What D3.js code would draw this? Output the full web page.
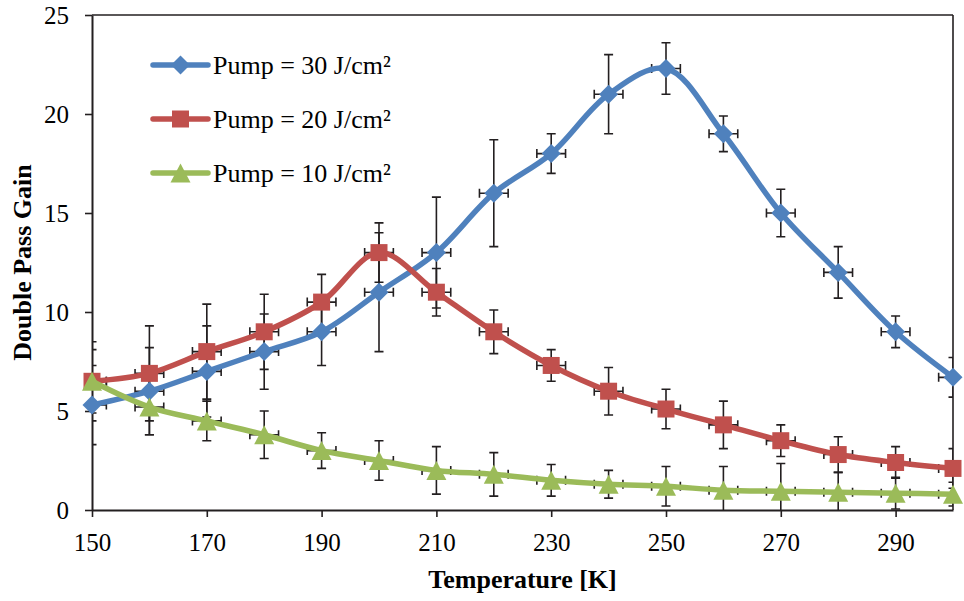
<!DOCTYPE html>
<html>
<head>
<meta charset="utf-8">
<script src="https://cdn.jsdelivr.net/npm/d3@7"></script>
<style>
  html, body { margin: 0; padding: 0; background: #fff; }
  svg { display: block; }
  .tick text { font-family: "Liberation Serif", "Times New Roman", serif; font-size: 25px; fill: #000; }
</style>
</head>
<body>
<svg id="chart" width="964" height="601"></svg>
<script>
// Temperature steps (K)
const temperatures = [150, 160, 170, 180, 190, 200, 210, 220, 230, 240, 250, 260, 270, 280, 290, 300];

// Double pass gain for each pump fluence
const gain30 = [5.3, 6.0, 7.0, 8.0, 9.0, 11.0, 13.0, 16.0, 18.0, 21.0, 22.3, 19.0, 15.0, 12.0, 9.0, 6.7];
const gain20 = [6.5, 6.9, 8.0, 9.0, 10.5, 13.0, 11.0, 9.0, 7.3, 6.0, 5.1, 4.3, 3.5, 2.8, 2.4, 2.1];
const gain10 = [6.5, 5.2, 4.5, 3.8, 3.0, 2.5, 2.0, 1.8, 1.5, 1.3, 1.2, 1.0, 0.95, 0.9, 0.85, 0.8];

// Gain uncertainty (±)
const err30 = [2.0, 2.2, 2.3, 1.9, 1.7, 3.0, 2.8, 2.7, 1.0, 2.0, 1.3, 0.9, 1.2, 1.3, 0.8, 1.0];
const err20 = [2.0, 2.4, 2.4, 1.9, 1.4, 1.5, 1.2, 1.1, 0.8, 1.2, 1.0, 1.2, 0.8, 0.9, 0.8, 1.0];
const err10 = [1.6, 1.4, 1.0, 1.2, 0.9, 1.0, 1.2, 1.1, 0.8, 0.7, 1.0, 1.2, 1.4, 1.0, 0.8, 0.6];

// Temperature uncertainty (± K)
const tempErr = 2.5;

const seriesNames = ["Pump = 30 J/cm²", "Pump = 20 J/cm²", "Pump = 10 J/cm²"];
const xTicks = [150, 170, 190, 210, 230, 250, 270, 290];
const yTicks = [0, 5, 10, 15, 20, 25];

const colors = ["#4F81BD", "#C0504D", "#9BBB59"];
const shapes = ["diamond", "square", "triangle"];

const series = [
  { name: seriesNames[0], values: gain30, errs: err30, color: colors[0], shape: shapes[0] },
  { name: seriesNames[1], values: gain20, errs: err20, color: colors[1], shape: shapes[1] },
  { name: seriesNames[2], values: gain10, errs: err10, color: colors[2], shape: shapes[2] }
];

const W = 964, H = 601;
const margin = { top: 15, right: 11, bottom: 91, left: 92 };
const iw = W - margin.left - margin.right;
const ih = H - margin.top - margin.bottom;

const svg = d3.select("#chart");
const g = svg.append("g").attr("transform", `translate(${margin.left},${margin.top})`);

const x = d3.scaleLinear().domain([150, 300]).range([0, iw]);
const y = d3.scaleLinear().domain([0, 25]).range([ih, 0]);

function markerPath(shape) {
  if (shape === "diamond") {
    const r = 9.5;
    return `M0,${-r}L${r},0L0,${r}L${-r},0Z`;
  }
  if (shape === "square") {
    const s = 8.5;
    return `M${-s},${-s}H${s}V${s}H${-s}Z`;
  }
  const w = 10, h = 9.5;
  return `M0,${-h}L${w},${h}L${-w},${h}Z`;
}

// clip for error bars
g.append("clipPath").attr("id", "plotClip")
  .append("rect").attr("x", 0).attr("y", 0).attr("width", iw).attr("height", ih);

// frame: top and right borders
g.append("line").attr("x1", 0).attr("x2", iw).attr("y1", 0).attr("y2", 0)
  .attr("stroke", "#231f20").attr("stroke-width", 1.6);
g.append("line").attr("x1", iw).attr("x2", iw).attr("y1", 0).attr("y2", ih)
  .attr("stroke", "#231f20").attr("stroke-width", 1.6);

// axes
const xAxis = d3.axisBottom(x).tickValues(xTicks).tickSize(7).tickSizeOuter(0).tickPadding(16)
  .tickFormat(d3.format("d"));
const yAxis = d3.axisLeft(y).tickValues(yTicks).tickSize(7).tickSizeOuter(0).tickPadding(16)
  .tickFormat(d3.format("d"));

const gx = g.append("g").attr("transform", `translate(0,${ih})`).call(xAxis);
const gy = g.append("g").call(yAxis);
[gx, gy].forEach(a => {
  a.select(".domain").attr("stroke", "#231f20").attr("stroke-width", 2);
  a.selectAll(".tick line").attr("stroke", "#231f20").attr("stroke-width", 1.6);
});

// error bars
const eg = g.append("g").attr("clip-path", "url(#plotClip)")
  .attr("stroke", "#231f20").attr("stroke-width", 1.6).attr("fill", "none");
const cap = 4.5;
series.forEach(s => {
  temperatures.forEach((t, i) => {
    const cx = x(t), v = s.values[i], e = s.errs[i];
    const yt = y(v + e), yb = y(v - e), cy = y(v);
    eg.append("path").attr("d",
      `M${cx},${yt}V${yb}M${cx - cap},${yt}H${cx + cap}M${cx - cap},${yb}H${cx + cap}`);
    const xl = x(t - tempErr), xr = x(t + tempErr);
    eg.append("path").attr("d",
      `M${xl},${cy}H${xr}M${xl},${cy - cap}V${cy + cap}M${xr},${cy - cap}V${cy + cap}`);
  });
});

// lines and markers
const line = d3.line().curve(d3.curveCatmullRom.alpha(0.5))
  .x(d => x(d[0])).y(d => y(d[1]));

series.forEach(s => {
  const pts = temperatures.map((t, i) => [t, s.values[i]]);
  g.append("path").datum(pts).attr("d", line)
    .attr("fill", "none").attr("stroke", s.color).attr("stroke-width", 5.5)
    .attr("stroke-linejoin", "round").attr("stroke-linecap", "round");
  g.append("g").selectAll("path").data(pts).join("path")
    .attr("transform", d => `translate(${x(d[0])},${y(d[1])})`)
    .attr("d", markerPath(s.shape))
    .attr("fill", s.color);
});

// legend
const legendRows = [65, 119, 173];
series.forEach((s, i) => {
  const ly = legendRows[i];
  const lg = svg.append("g");
  lg.append("line").attr("x1", 153).attr("x2", 208).attr("y1", ly).attr("y2", ly)
    .attr("stroke", s.color).attr("stroke-width", 5.5).attr("stroke-linecap", "round");
  lg.append("path").attr("transform", `translate(180.5,${ly})`)
    .attr("d", markerPath(s.shape)).attr("fill", s.color);
  lg.append("text").attr("x", 213).attr("y", ly + 9)
    .attr("font-family", "'Liberation Serif', 'Times New Roman', serif")
    .attr("font-size", 26).attr("fill", "#000")
    .text(s.name);
});

// axis titles
svg.append("text")
  .attr("x", margin.left + iw / 2).attr("y", 588)
  .attr("text-anchor", "middle")
  .attr("font-family", "'Liberation Serif', 'Times New Roman', serif")
  .attr("font-weight", "bold").attr("font-size", 26)
  .text("Temperature [K]");

svg.append("text")
  .attr("transform", `translate(31,${margin.top + ih / 2}) rotate(-90)`)
  .attr("text-anchor", "middle")
  .attr("font-family", "'Liberation Serif', 'Times New Roman', serif")
  .attr("font-weight", "bold").attr("font-size", 26)
  .text("Double Pass Gain");
</script>
</body>
</html>
